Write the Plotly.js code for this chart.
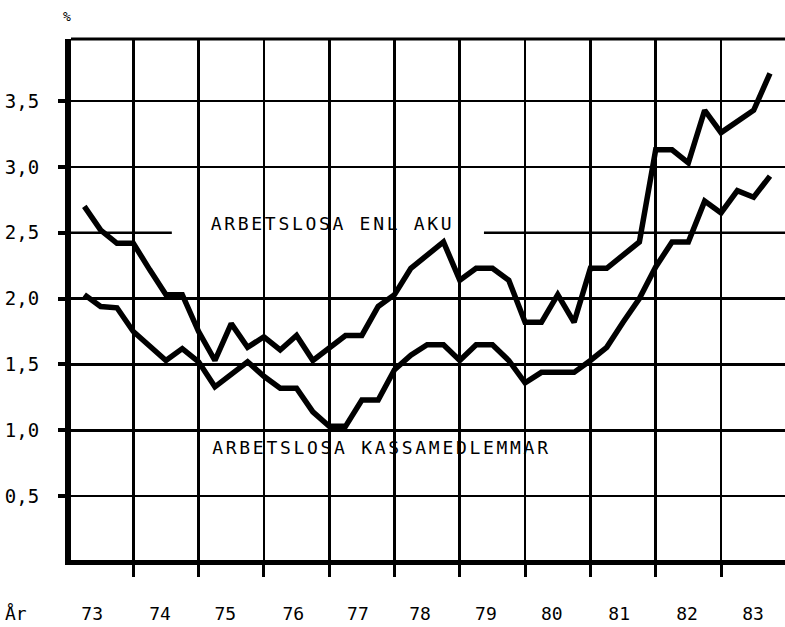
<!DOCTYPE html>
<html>
<head>
<meta charset="utf-8">
<script src="https://cdn.plot.ly/plotly-3.0.1.min.js"></script>
<style>
  html, body { margin: 0; padding: 0; background: #fff; }
  #chart { width: 785px; height: 627px; }
  .annotation[data-index="0"] .annotation-text,
  .annotation[data-index="1"] .annotation-text { letter-spacing: 2.7px; }
</style>
</head>
<body>
<div id="chart"></div>
<script>
// Quarterly observations (decimal year, end of quarter)
const quarters = [
  1973.25, 1973.50, 1973.75, 1974.00, 1974.25, 1974.50, 1974.75, 1975.00,
  1975.25, 1975.50, 1975.75, 1976.00, 1976.25, 1976.50, 1976.75, 1977.00,
  1977.25, 1977.50, 1977.75, 1978.00, 1978.25, 1978.50, 1978.75, 1979.00,
  1979.25, 1979.50, 1979.75, 1980.00, 1980.25, 1980.50, 1980.75, 1981.00,
  1981.25, 1981.50, 1981.75, 1982.00, 1982.25, 1982.50, 1982.75, 1983.00,
  1983.25, 1983.50, 1983.75
];
// Arbetslösa enl AKU (%)
const akuValues = [
  2.70, 2.52, 2.42, 2.42, 2.22, 2.03, 2.03, 1.75,
  1.53, 1.81, 1.63, 1.71, 1.61, 1.72, 1.53, 1.62,
  1.72, 1.72, 1.94, 2.03, 2.23, 2.33, 2.43, 2.14,
  2.23, 2.23, 2.14, 1.82, 1.82, 2.03, 1.82, 2.23,
  2.23, 2.33, 2.43, 3.13, 3.13, 3.03, 3.43, 3.26,
  3.34, 3.43, 3.71
];
// Arbetslösa kassamedlemmar (%)
const kassaValues = [
  2.03, 1.94, 1.93, 1.75, 1.64, 1.53, 1.62, 1.52,
  1.33, 1.42, 1.52, 1.41, 1.32, 1.32, 1.14, 1.03,
  1.03, 1.23, 1.23, 1.46, 1.57, 1.65, 1.65, 1.53,
  1.65, 1.65, 1.53, 1.36, 1.44, 1.44, 1.44, 1.53,
  1.63, 1.82, 2.00, 2.24, 2.43, 2.43, 2.74, 2.65,
  2.82, 2.77, 2.93
];
const yearLabels = ['73','74','75','76','77','78','79','80','81','82','83'];
const yearLabelPos = [1973.37,1974.41,1975.41,1976.45,1977.44,1978.39,1979.40,1980.41,1981.44,1982.48,1983.49];
const yearBounds = [1974,1975,1976,1977,1978,1979,1980,1981,1982,1983];
const yTickVals = [0.5, 1.0, 1.5, 2.0, 2.5, 3.0, 3.5];
const yTickText = ['0,5','1,0','1,5','2,0','2,5','3,0','3,5'];
const yGridVals = [0.5, 1.0, 1.5, 2.0, 3.0, 3.5];
const seriesNames = ['ARBETSLOSA ENL AKU', 'ARBETSLOSA KASSAMEDLEMMAR'];

const FONT = 'DejaVu Sans Mono, Liberation Mono, monospace';
const xRange = [1973.046, 1983.98];
const yRange = [0.0152, 3.971];

const traces = [
  { x: quarters, y: akuValues, type: 'scatter', mode: 'lines', name: seriesNames[0],
    yaxis: 'y2', line: { color: '#000', width: 5.5 }, hoverinfo: 'x+y' },
  { x: quarters, y: kassaValues, type: 'scatter', mode: 'lines', name: seriesNames[1],
    line: { color: '#000', width: 5.5 }, hoverinfo: 'x+y' }
];

const layout = {
  width: 785, height: 627,
  margin: { l: 71, r: 0, t: 39, b: 67 },
  paper_bgcolor: '#fff', plot_bgcolor: '#fff',
  showlegend: false,
  font: { family: FONT, color: '#000', size: 18 },
  xaxis: {
    range: xRange, showline: true, linewidth: 5, linecolor: '#000',
    tickmode: 'array', tickvals: yearLabelPos, ticktext: yearLabels,
    ticks: '', showgrid: false, zeroline: false,
    tickfont: { family: FONT, size: 18, color: '#000' },
    ticklabelstandoff: 33,
    minor: { tickmode: 'array', tickvals: yearBounds, ticks: 'outside', ticklen: 12,
             tickwidth: 3, tickcolor: '#000', showgrid: true, gridcolor: '#000', gridwidth: 2.6 }
  },
  yaxis: {
    range: yRange, showline: true, linewidth: 6, linecolor: '#000',
    tickmode: 'array', tickvals: yTickVals, ticktext: yTickText,
    ticks: 'outside', ticklen: 7, tickwidth: 4, tickcolor: '#000',
    showgrid: false, zeroline: false,
    tickfont: { family: FONT, size: 19, color: '#000' },
    ticklabelstandoff: 15
  },
  yaxis2: {
    range: yRange, overlaying: 'y', anchor: 'x', side: 'left',
    tickmode: 'array', tickvals: yGridVals, showticklabels: false, ticks: '',
    showgrid: true, gridcolor: '#000', gridwidth: 2.6, zeroline: false, showline: false
  },
  shapes: [
    { type: 'line', xref: 'paper', yref: 'paper', x0: 0, x1: 1, y0: 1, y1: 1,
      line: { color: '#000', width: 3 } },
    { type: 'line', xref: 'x', yref: 'y', x0: xRange[0], x1: 1974.59, y0: 2.5, y1: 2.5,
      line: { color: '#000', width: 2.6 } },
    { type: 'line', xref: 'x', yref: 'y', x0: 1979.37, x1: xRange[1], y0: 2.5, y1: 2.5,
      line: { color: '#000', width: 2.6 } }
  ],
  annotations: [
    { text: seriesNames[0], xref: 'x', yref: 'y', x: 1977.05, y: 2.567,
      xanchor: 'center', yanchor: 'middle', showarrow: false,
      font: { family: FONT, size: 18, color: '#000' } },
    { text: seriesNames[1], xref: 'x', yref: 'y', x: 1977.80, y: 0.873,
      xanchor: 'center', yanchor: 'middle', showarrow: false,
      font: { family: FONT, size: 18, color: '#000' } },
    { text: 'År', xref: 'paper', yref: 'paper', x: -0.095, y: -0.1035,
      xanchor: 'left', yanchor: 'middle', showarrow: false,
      font: { family: FONT, size: 18, color: '#000' } },
    { text: '%', xref: 'paper', yref: 'paper', x: -0.0056, y: 1.044,
      xanchor: 'center', yanchor: 'middle', showarrow: false,
      font: { family: FONT, size: 13, color: '#000' } }
  ]
};

Plotly.newPlot('chart', traces, layout, { displayModeBar: false, staticPlot: true });
</script>
</body>
</html>
